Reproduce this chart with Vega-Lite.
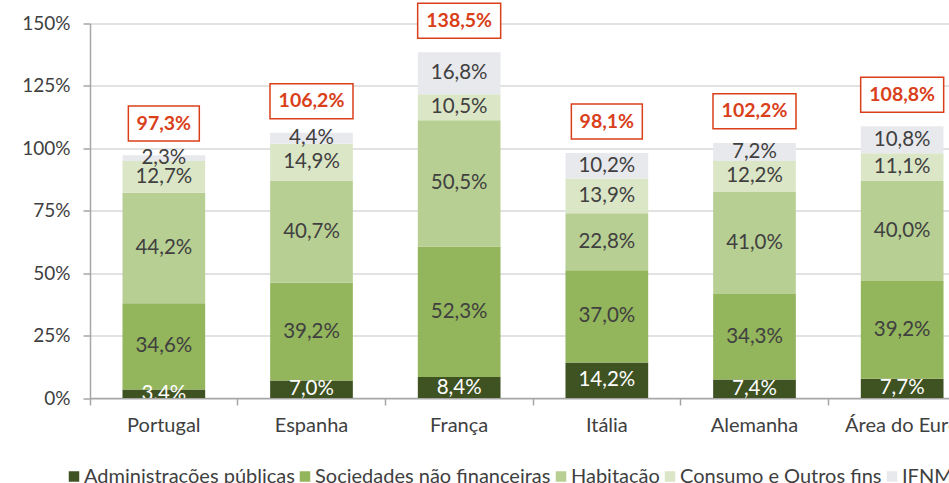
{
  "$schema": "https://vega.github.io/schema/vega-lite/v6.json",
  "autosize": "none",
  "padding": {"left": 90, "top": 23.5, "right": 0, "bottom": 85},
  "width": 859,
  "height": 374.5,
  "config": {
    "font": "Lato",
    "view": {"stroke": null},
    "text": {"font": "Lato"}
  },
  "datasets": {
    "bars": [
      {"country": "Portugal", "cat": "Administrações públicas", "value": 3.4},
      {"country": "Portugal", "cat": "Sociedades não financeiras", "value": 34.6},
      {"country": "Portugal", "cat": "Habitação", "value": 44.2},
      {"country": "Portugal", "cat": "Consumo e Outros fins", "value": 12.7},
      {"country": "Portugal", "cat": "IFNM", "value": 2.3},
      {"country": "Espanha", "cat": "Administrações públicas", "value": 7.0},
      {"country": "Espanha", "cat": "Sociedades não financeiras", "value": 39.2},
      {"country": "Espanha", "cat": "Habitação", "value": 40.7},
      {"country": "Espanha", "cat": "Consumo e Outros fins", "value": 14.9},
      {"country": "Espanha", "cat": "IFNM", "value": 4.4},
      {"country": "França", "cat": "Administrações públicas", "value": 8.4},
      {"country": "França", "cat": "Sociedades não financeiras", "value": 52.3},
      {"country": "França", "cat": "Habitação", "value": 50.5},
      {"country": "França", "cat": "Consumo e Outros fins", "value": 10.5},
      {"country": "França", "cat": "IFNM", "value": 16.8},
      {"country": "Itália", "cat": "Administrações públicas", "value": 14.2},
      {"country": "Itália", "cat": "Sociedades não financeiras", "value": 37.0},
      {"country": "Itália", "cat": "Habitação", "value": 22.8},
      {"country": "Itália", "cat": "Consumo e Outros fins", "value": 13.9},
      {"country": "Itália", "cat": "IFNM", "value": 10.2},
      {"country": "Alemanha", "cat": "Administrações públicas", "value": 7.4},
      {"country": "Alemanha", "cat": "Sociedades não financeiras", "value": 34.3},
      {"country": "Alemanha", "cat": "Habitação", "value": 41.0},
      {"country": "Alemanha", "cat": "Consumo e Outros fins", "value": 12.2},
      {"country": "Alemanha", "cat": "IFNM", "value": 7.2},
      {"country": "Área do Euro", "cat": "Administrações públicas", "value": 7.7},
      {"country": "Área do Euro", "cat": "Sociedades não financeiras", "value": 39.2},
      {"country": "Área do Euro", "cat": "Habitação", "value": 40.0},
      {"country": "Área do Euro", "cat": "Consumo e Outros fins", "value": 11.1},
      {"country": "Área do Euro", "cat": "IFNM", "value": 10.8}
    ],
    "totals": [
      {"country": "Portugal", "total": 97.3},
      {"country": "Espanha", "total": 106.2},
      {"country": "França", "total": 138.5},
      {"country": "Itália", "total": 98.1},
      {"country": "Alemanha", "total": 102.2},
      {"country": "Área do Euro", "total": 108.8}
    ]
  },
  "encoding": {
    "x": {
      "field": "country",
      "type": "nominal",
      "sort": ["Portugal", "Espanha", "França", "Itália", "Alemanha", "Área do Euro"],
      "scale": {"paddingInner": 0, "paddingOuter": 0, "range": [0, 886]},
      "axis": {
        "title": null,
        "labelAngle": 0,
        "bandPosition": 0,
        "domainColor": "#A6A6A6",
        "domainWidth": 1.5,
        "tickColor": "#A6A6A6",
        "tickWidth": 1.5,
        "tickSize": 7,
        "labelPadding": 10,
        "labelFontSize": 20,
        "labelColor": "#404040",
        "labelFont": "Lato",
        "grid": false
      }
    }
  },
  "layer": [
    {
      "data": {"name": "bars"},
      "transform": [
        {"calculate": "indexof(['Administrações públicas','Sociedades não financeiras','Habitação','Consumo e Outros fins','IFNM'], datum.cat)", "as": "ord"},
        {"stack": "value", "groupby": ["country"], "sort": [{"field": "ord", "order": "ascending"}], "as": ["y0", "y1"]}
      ],
      "mark": {"type": "bar", "width": {"band": 0.56}},
      "encoding": {
        "y": {
          "field": "y1",
          "type": "quantitative",
          "scale": {"domain": [0, 150], "nice": false},
          "axis": {
            "title": null,
            "values": [0, 25, 50, 75, 100, 125, 150],
            "labelExpr": "datum.value + '%'",
            "domainColor": "#A6A6A6",
            "domainWidth": 1.5,
            "tickColor": "#A6A6A6",
            "tickWidth": 1.5,
            "tickSize": 7,
            "labelPadding": 13,
            "labelFontSize": 19,
            "labelColor": "#404040",
            "labelFont": "Lato",
            "grid": true,
            "gridColor": "#D9D9D9",
            "gridWidth": 1.5
          }
        },
        "y2": {"field": "y0"},
        "color": {
          "field": "cat",
          "type": "nominal",
          "scale": {
            "domain": ["Administrações públicas", "Sociedades não financeiras", "Habitação", "Consumo e Outros fins", "IFNM"],
            "range": ["#3E5222", "#93B55B", "#B8CF93", "#DBE6C7", "#E8E9ED"]
          },
          "legend": {
            "orient": "none",
            "direction": "horizontal",
            "columns": 5,
            "legendX": -26,
            "legendY": 443,
            "title": null,
            "padding": 0,
            "symbolType": "square",
            "symbolSize": 110,
            "symbolStrokeWidth": 0,
            "symbolOpacity": 1,
            "labelFontSize": 20,
            "labelFont": "Lato",
            "labelColor": "#404040",
            "labelOffset": 0,
            "labelLimit": 0,
            "columnPadding": 0
          }
        }
      }
    },
    {
      "data": {"name": "bars"},
      "transform": [
        {"calculate": "indexof(['Administrações públicas','Sociedades não financeiras','Habitação','Consumo e Outros fins','IFNM'], datum.cat)", "as": "ord"},
        {"stack": "value", "groupby": ["country"], "sort": [{"field": "ord", "order": "ascending"}], "as": ["y0", "y1"]},
        {"calculate": "(datum.y0 + datum.y1) / 2", "as": "mid"},
        {"calculate": "replace(format(datum.value, '.1f'), '.', ',') + '%'", "as": "label"}
      ],
      "mark": {"type": "text", "fontSize": 20.5, "baseline": "middle", "align": "center", "clip": true},
      "encoding": {
        "y": {"field": "mid", "type": "quantitative"},
        "text": {"field": "label"},
        "color": {
          "condition": {"test": "datum.cat === 'Administrações públicas'", "value": "#FFFFFF"},
          "value": "#404040"
        }
      }
    },
    {
      "data": {"name": "totals"},
      "mark": {"type": "point", "filled": true, "fill": "#FFFFFF", "stroke": "#D9401A", "strokeWidth": 1.5, "opacity": 1, "size": 6889, "yOffset": -31.5},
      "encoding": {
        "y": {"field": "total", "type": "quantitative"},
        "shape": {
          "field": "total",
          "type": "nominal",
          "scale": {
            "domain": [97.3, 106.2, 138.5, 98.1, 102.2, 108.8],
            "range": [
              "M-0.855,-0.4217H0.855V0.4217H-0.855Z",
              "M-1,-0.4217H1V0.4217H-1Z",
              "M-1,-0.4217H1V0.4217H-1Z",
              "M-0.855,-0.4217H0.855V0.4217H-0.855Z",
              "M-1,-0.4217H1V0.4217H-1Z",
              "M-1,-0.4217H1V0.4217H-1Z"
            ]
          },
          "legend": null
        }
      }
    },
    {
      "data": {"name": "totals"},
      "transform": [
        {"calculate": "replace(format(datum.total, '.1f'), '.', ',') + '%'", "as": "label"}
      ],
      "mark": {"type": "text", "fontSize": 19.5, "fontWeight": "bold", "color": "#D9401A", "baseline": "middle", "align": "center", "yOffset": -31.5},
      "encoding": {
        "y": {"field": "total", "type": "quantitative"},
        "text": {"field": "label"}
      }
    }
  ]
}
